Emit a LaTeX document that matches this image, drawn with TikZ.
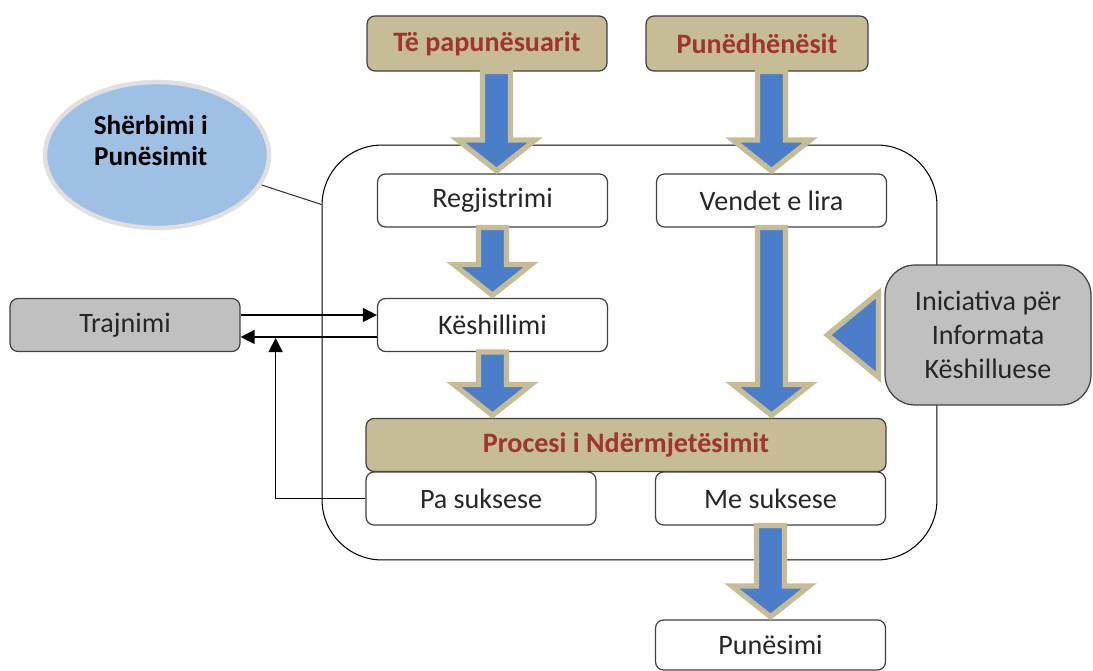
\documentclass[tikz,border=0pt]{standalone}
\usepackage{fontspec}
\setmainfont{Carlito}
\usetikzlibrary{calc,shapes.geometric,arrows.meta}
\definecolor{kafe}{RGB}{198,188,150}
\definecolor{kuqe}{RGB}{160,52,46}
\definecolor{blu}{RGB}{74,126,200}
\definecolor{qiell}{RGB}{158,192,228}
\definecolor{hiri}{RGB}{192,192,192}
\tikzset{
  kutia/.style={draw=black!75, line width=0.7pt, rounded corners=0.16cm, fill=white,
    minimum width=4.6cm, minimum height=1.06cm, text=black!85,
    font=\fontsize{16}{19.5}\selectfont},
  koka/.style={kutia, fill=kafe, text=kuqe, font=\fontsize{16}{19.5}\selectfont\bfseries},
  gri/.style={kutia, fill=hiri}
}
% shigjete e madhe blu me kornize
\newcommand{\shigjeta}[2]{%
  \path let \p1=(#1), \p2=(#2) in
    [draw=kafe, line width=3pt, fill=blu, line join=miter]
    (\x1-8pt,\y1) -- (\x1+8pt,\y1) -- (\x1+8pt,\y2+19pt) -- (\x1+22pt,\y2+19pt)
    -- (\x1,\y2+1.5pt) -- (\x1-22pt,\y2+19pt) -- (\x1-8pt,\y2+19pt) -- cycle;}
\begin{document}
\begin{tikzpicture}[x=0.02cm, y=-0.02cm]
        \useasboundingbox (0,0) rectangle (1093,671);
        % Korniza e madhe
        \node[draw, line width=0.6pt, rounded corners=1.2cm, minimum width=12.3cm,
          minimum height=8.3cm] (korniza) at (629.5,352.5) {};
        % Kutite lart
        \node[koka, minimum width=4.8cm, minimum height=1.1cm] (pap) at (487,43.5) {Të papunësuarit};
        \node[koka, minimum width=4.44cm, minimum height=1.1cm] (pun) at (757,43.5) {Punëdhënësit};
        % Kutite brenda
        \node[kutia] (reg) at (492.5,200.5) {Regjistrimi};
        \node[kutia] (ven) at (771.5,200.5) {Vendet e lira};
        \node[kutia] (kes) at (492.5,325) {Këshillimi};
        \node[koka, minimum width=10.4cm] (pro) at (626,445) {Procesi i Ndërmjetësimit};
        \node[kutia] (pa) at (481,498.5) {Pa suksese};
        \node[kutia] (me) at (770.5,498.5) {Me suksese};
        \node[kutia, minimum height=1.0cm] (pune) at (770.5,645) {Punësimi};
        % Kutite anash
        \node[gri] (tra) at (125,325) {Trajnimi};
        \node[gri, rounded corners=0.6cm, minimum width=4.12cm, minimum height=2.8cm,
          align=center] (ini) at (988,335) {Iniciativa për\\Informata\\Këshilluese};
        % Elipsa
        \node[ellipse, draw=black!12, line width=2.5pt, fill=qiell, minimum width=4.48cm,
          minimum height=2.92cm, align=center, font=\fontsize{15.5}{18}\selectfont\bfseries]
          (sherb) at (157,155) {\hspace*{-0.25cm}Shërbimi i\\\hspace*{-0.25cm}Punësimit\\[-0.05cm]};
        \draw[black!80, line width=0.6pt] (sherb.-16) -- ($(korniza.north west)+(0,60)$);
        % Shigjetat blu
        \shigjeta{$(pap.south -| reg.north)+(4,0)$}{$(reg.north)+(4,0)$}
        \shigjeta{reg.south}{kes.north}
        \shigjeta{kes.south}{pro.north}
        \shigjeta{pun.south -| ven.north}{ven.north}
        \shigjeta{ven.south}{ven.south |- pro.north}
        \shigjeta{me.south}{pune.north}
        \path[draw=kafe, line width=3pt, fill=blu, line join=miter]
          ($(ini.west)+(-57,0)$) -- ($(ini.west)+(-6,-42)$) -- ($(ini.west)+(-6,42)$) -- cycle;
        % Lidhjet me Trajnimin
        \draw[line width=0.8pt, -{Triangle[length=8pt,width=8pt]}]
          ([yshift=0.2cm]tra.east) -- ([yshift=0.2cm]kes.west);
        \draw[line width=0.8pt, -{Triangle[length=8pt,width=8pt]}]
          ([yshift=-0.24cm]kes.west) -- ([yshift=-0.24cm]tra.east);
        \draw[line width=0.8pt, -{Triangle[length=8pt,width=8pt]}]
          (pa.west) -| ([xshift=0.7cm,yshift=-0.26cm]tra.east);
    \end{tikzpicture}
\end{document}
